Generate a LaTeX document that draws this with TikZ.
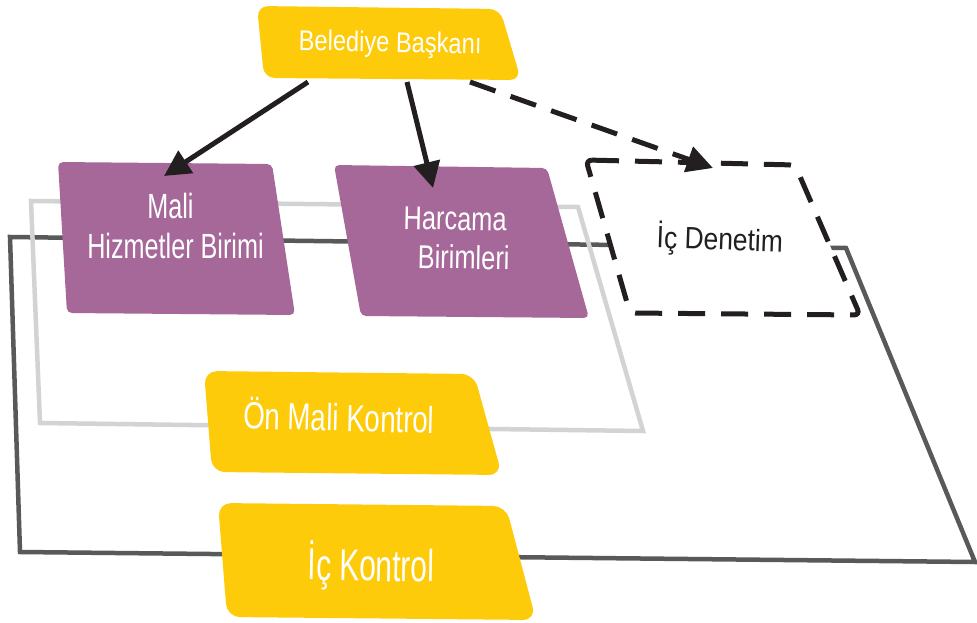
\documentclass[tikz,border=0pt]{standalone}
\usepackage{fontspec}
\setmainfont{Liberation Sans}
\usetikzlibrary{arrows.meta}
\definecolor{yel}{RGB}{254,203,10}
\definecolor{pur}{RGB}{166,104,152}
\definecolor{lgray}{RGB}{209,211,212}
\definecolor{dgray}{RGB}{88,89,91}
\definecolor{ink}{RGB}{35,31,32}
\newcommand{\cond}[2]{\scalebox{#1}[1]{#2}}
\begin{document}
\begin{tikzpicture}[x=1pt,y=-1pt,
  yellowbox/.style={fill=yel, rounded corners=11pt},
  purplebox/.style={fill=pur, rounded corners=5pt},
  frameline/.style={line width=4.5pt, line join=miter},
  wlabel/.style={text=white, anchor=base, inner sep=0pt},
  arr/.style={draw=ink, line width=5pt, -{Triangle[length=26pt,width=26pt]}},
  dasharr/.style={arr, dash pattern=on 27pt off 16pt},
]
\useasboundingbox (0,0) rectangle (977,623);

% frames
\draw[frameline, draw=dgray] (10,237) -- (846,248) -- (975,562) -- (20,552) -- cycle;
\draw[frameline, draw=lgray] (31,201) -- (578,207) -- (643,431) -- (40,423) -- cycle;

% boxes
\fill[yellowbox] (257,6) -- (500,9) -- (521,80) -- (264,78) -- cycle;
\fill[purplebox] (58,162) -- (272,164) -- (295,315) -- (67,313) -- cycle;
\fill[purplebox] (334,165) -- (547,168) -- (589,318) -- (361,316) -- cycle;
\draw[draw=ink, line width=5pt, dash pattern=on 27pt off 16pt, fill=white, rounded corners=6pt]
  (586,160) -- (795,165) -- (860,315) -- (630,313) -- cycle;
\fill[yellowbox, rounded corners=13pt] (204,371) -- (474,374) -- (502,475) -- (212,472) -- cycle;
\fill[yellowbox, rounded corners=13pt] (218,503) -- (506,506) -- (536,620) -- (227,617) -- cycle;

% labels
\node[wlabel, rotate=-1] (bb) at (390,52) {\fontsize{28.5}{30}\selectfont\cond{0.83}{Belediye Başkanı}};
\node[wlabel] (mali1) at (170.5,218) {\fontsize{35}{38}\selectfont\cond{0.72}{Mali}};
\node[wlabel] (mali2) at (175.5,258) {\fontsize{35}{38}\selectfont\cond{0.72}{Hizmetler Birimi}};
\node[wlabel, rotate=-1] (harc1) at (455,230) {\fontsize{33}{36}\selectfont\cond{0.77}{Harcama}};
\node[wlabel, rotate=-1] (harc2) at (463.5,269) {\fontsize{33}{36}\selectfont\cond{0.77}{Birimleri}};
\node[anchor=base, inner sep=0pt, text=ink, rotate=-2] (icd) at (719.5,250) {\fontsize{30.7}{33}\selectfont\cond{0.86}{İç Denetim}};
\node[wlabel, rotate=-1.5] (onmali) at (338.5,431) {\fontsize{37.7}{40}\selectfont\cond{0.735}{Ön Mali Kontrol}};
\node[wlabel, rotate=-1] (ick) at (371,581) {\fontsize{44.7}{48}\selectfont\cond{0.67}{İç Kontrol}};

% connectors
\coordinate (bbA) at (308,82);
\coordinate (bbB) at (407,82);
\coordinate (bbC) at (470,82);
\coordinate (maliIn) at (164,176);
\coordinate (harcIn) at (433,188);
\coordinate (icdIn) at (713,168);
\draw[arr] (bbA) -- (maliIn);
\draw[arr] (bbB) -- (harcIn);
\draw[dasharr] (bbC) -- (icdIn);
\end{tikzpicture}
\end{document}
